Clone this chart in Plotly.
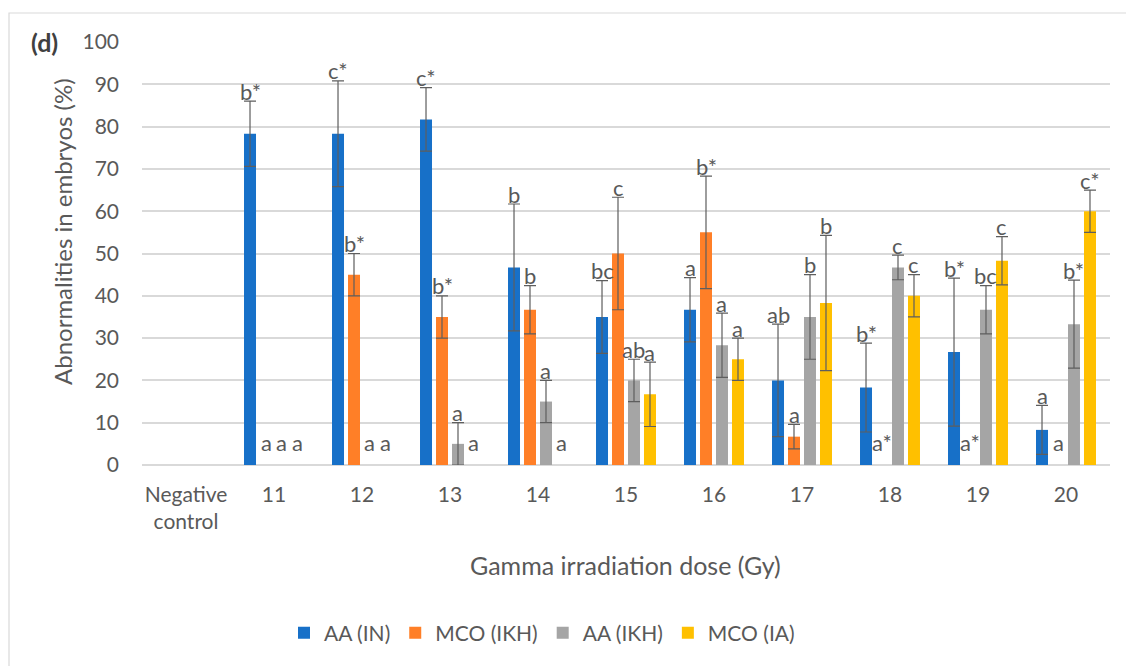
import plotly.graph_objects as go

categories = ["Negative<br>control", "11", "12", "13", "14", "15", "16", "17", "18", "19", "20"]
series_names = ["AA (IN)", "MCO (IKH)", "AA (IKH)", "MCO (IA)"]

aa_in = [0, 78.3, 78.3, 81.7, 46.7, 35.0, 36.7, 20.0, 18.3, 26.7, 8.3]
aa_in_err = [0, 7.7, 12.5, 7.5, 15.0, 8.6, 7.6, 13.3, 10.5, 17.5, 5.8]
aa_in_lbl = ["", "b*", "c*", "c*", "b", "bc", "a", "ab", "b*", "b*", "a"]

mco_ikh = [0, 0, 45.0, 35.0, 36.7, 50.0, 55.0, 6.7, 0, 0, 0]
mco_ikh_err = [0, 0, 5.0, 5.0, 5.7, 13.3, 13.3, 2.9, 0, 0, 0]
mco_ikh_lbl = ["", "a", "b*", "b*", "b", "c", "b*", "a", "a*", "a*", "a"]

aa_ikh = [0, 0, 0, 5.0, 15.0, 20.0, 28.3, 35.0, 46.7, 36.7, 33.3]
aa_ikh_err = [0, 0, 0, 5.0, 5.0, 5.0, 7.6, 10.0, 2.9, 5.7, 10.4]
aa_ikh_lbl = ["", "a", "a", "a", "a", "ab", "a", "b", "c", "bc", "b*"]

mco_ia = [0, 0, 0, 0, 0, 16.7, 25.0, 38.3, 40.0, 48.3, 60.0]
mco_ia_err = [0, 0, 0, 0, 0, 7.6, 5.0, 16.0, 5.0, 5.7, 5.0]
mco_ia_lbl = ["", "a", "a", "a", "a", "a", "a", "b", "c", "c", "c*"]

colors = ["#1770C8", "#FF7F27", "#A5A5A5", "#FFC000"]

values = [aa_in, mco_ikh, aa_ikh, mco_ia]
errors = [aa_in_err, mco_ikh_err, aa_ikh_err, mco_ia_err]
labels = [aa_in_lbl, mco_ikh_lbl, aa_ikh_lbl, mco_ia_lbl]

FONT = "Lato"
TXT = "#595959"
W, H = 1126, 666
L, R, T, B = 142, 1110, 42, 465


def px2x(px):
    return (px - L) / (R - L)


def py2y(py):
    return (B - py) / (B - T)


fig = go.Figure()
for name, v, e, c in zip(series_names, values, errors, colors):
    # zero-height bars are invisible in the reference (no bar, no error cap)
    fig.add_trace(go.Bar(
        name=name, x=categories, y=[vv if vv > 0 else None for vv in v],
        marker=dict(color=c, line=dict(width=0)),
        error_y=dict(type="data", array=e, visible=True,
                     color="#5E5E5E", thickness=1.2, width=6),
    ))

# category width in px and bar slot width
cat_w = (R - L) / len(categories)
bargap = 0.273
slot = cat_w * (1 - bargap) / 4

annotations = []
for si, (v, e, lb) in enumerate(zip(values, errors, labels)):
    xs = (si - 1.5) * slot
    for ci in range(len(categories)):
        if not lb[ci]:
            continue
        if v[ci] > 0:
            y = v[ci] + e[ci]
            ysh = 10
        else:
            y = 0
            ysh = 23
        annotations.append(dict(
            x=ci, y=y, xref="x", yref="y", text=lb[ci], showarrow=False,
            xshift=xs, yshift=ysh, yanchor="middle", xanchor="center",
            font=dict(family=FONT, size=22, color=TXT),
        ))

annotations.append(dict(
    x=px2x(44), y=py2y(42), xref="paper", yref="paper", text="<b>(d)</b>",
    showarrow=False, xanchor="center", yanchor="middle",
    font=dict(family=FONT, size=25, color="#404040")))
annotations.append(dict(
    x=px2x(62), y=py2y(232), xref="paper", yref="paper",
    text="Abnormalities in embryos (%)", textangle=-90,
    showarrow=False, xanchor="center", yanchor="middle",
    font=dict(family=FONT, size=24, color=TXT)))
annotations.append(dict(
    x=px2x(625), y=py2y(565), xref="paper", yref="paper",
    text="Gamma irradiation dose (Gy)",
    showarrow=False, xanchor="center", yanchor="middle",
    font=dict(family=FONT, size=25, color=TXT)))

fig.update_layout(
    width=W, height=H,
    margin=dict(l=L, r=W - R, t=T, b=H - B),
    paper_bgcolor="white", plot_bgcolor="white",
    barmode="group", bargap=bargap, bargroupgap=0.25,
    font=dict(family=FONT, size=21, color=TXT),
    showlegend=True,
    legend=dict(orientation="h", x=px2x(542), xanchor="center",
                y=py2y(633), yanchor="middle",
                font=dict(family=FONT, size=21, color=TXT),
                itemwidth=30, traceorder="normal"),
    annotations=annotations,
    shapes=[dict(type="rect", xref="paper", yref="paper",
                 x0=px2x(9), x1=px2x(1140), y0=py2y(680), y1=py2y(13),
                 line=dict(color="#D9D9D9", width=1.2), fillcolor="rgba(0,0,0,0)",
                 layer="below")],
)
fig.update_xaxes(type="category", range=[-0.5, len(categories) - 0.5],
                 showgrid=False, showline=False, zeroline=False, ticks="",
                 tickangle=0,
                 tickfont=dict(family=FONT, size=21, color=TXT),
                 ticklabelstandoff=15)
fig.update_yaxes(range=[0, 100], dtick=10, showgrid=True, gridcolor="#D9D9D9",
                 gridwidth=1.5, zeroline=True, zerolinecolor="#D9D9D9", zerolinewidth=1.5,
                 showline=False, ticks="",
                 tickfont=dict(family=FONT, size=21, color=TXT),
                 ticklabelstandoff=22)

fig.write_html("out.html")
